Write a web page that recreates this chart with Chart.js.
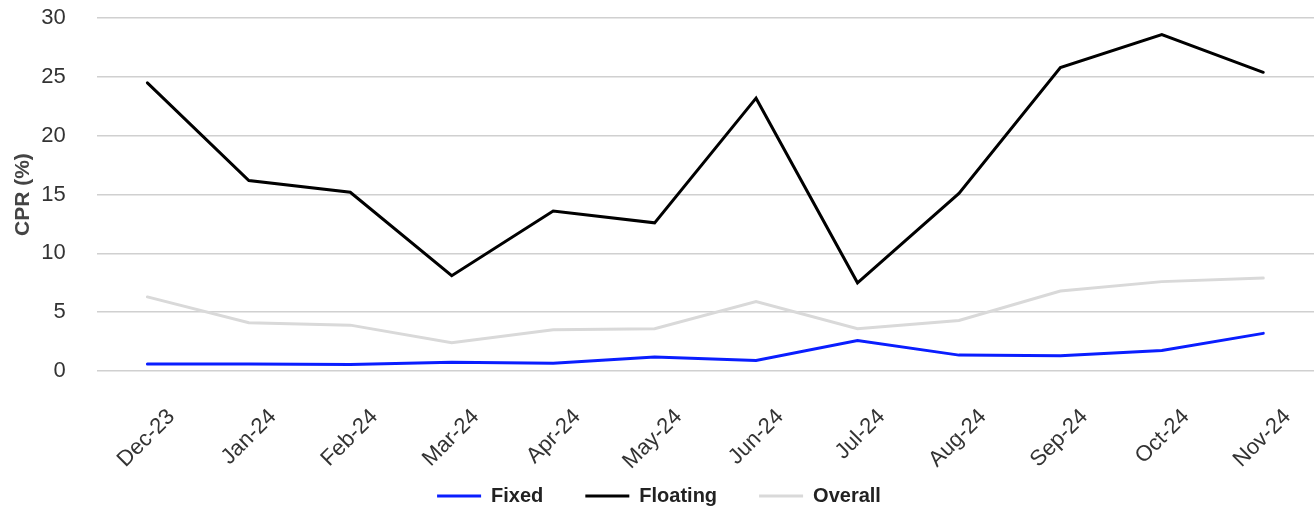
<!DOCTYPE html>
<html>
<head>
<meta charset="utf-8">
<script src="https://cdn.jsdelivr.net/npm/chart.js@4"></script>
<style>
  body { margin: 0; background: #fff; }
  #wrap { width: 1314px; height: 518px; position: relative; }
</style>
</head>
<body>
<div id="wrap"><canvas id="cpr"></canvas></div>
<script>
var months = ["Dec-23", "Jan-24", "Feb-24", "Mar-24", "Apr-24", "May-24",
              "Jun-24", "Jul-24", "Aug-24", "Sep-24", "Oct-24", "Nov-24"];
var fixed = [0.6, 0.6, 0.55, 0.75, 0.65, 1.2, 0.9, 2.6, 1.35, 1.3, 1.75, 3.2];
var floating = [24.5, 16.2, 15.2, 8.1, 13.6, 12.6, 23.2, 7.5, 15.1, 25.8, 28.6, 25.4];
var overall = [6.3, 4.1, 3.9, 2.4, 3.5, 3.6, 5.9, 3.6, 4.3, 6.8, 7.6, 7.9];

Chart.defaults.font.family = "'Liberation Sans', Arial, sans-serif";
Chart.defaults.color = "#333";

const data_cpr = {
  labels: months,
  datasets: [
    { label: "Fixed", data: fixed, borderColor: "#0a1eff", backgroundColor: "#0a1eff" },
    { label: "Floating", data: floating, borderColor: "#000000", backgroundColor: "#000000" },
    { label: "Overall", data: overall, borderColor: "#d9d9d9", backgroundColor: "#d9d9d9" },
  ],
};
data_cpr.datasets.forEach((ds) => {
  ds.borderWidth = 3;
  ds.pointRadius = 0;
  ds.tension = 0;
  ds.borderCapStyle = "round";
  ds.pointStyle = "line";
});

// x labels hang below their (shortened) axis box into the legend's empty top padding,
// so switch off the label clipping of that axis
const noLabelClip = {
  id: "noLabelClip",
  afterUpdate(chart) {
    chart.scales.x._computeLabelArea = () => undefined;
  },
};

const config_cpr = {
  type: "line",
  data: data_cpr,
  options: {
    responsive: true,
    maintainAspectRatio: false,
    animation: false,
    layout: { padding: { top: 0, right: 0, left: 4, bottom: 2 } },
    scales: {
      x: {
        offset: true,
        grid: { display: false },
        border: { display: false },
        ticks: {
          font: { size: 22 },
          color: "#333",
          maxRotation: 45,
          minRotation: 45,
          labelOffset: 24,
          padding: 25,
        },
        afterFit: (scale) => { scale.height = 73; },
      },
      y: {
        min: 0,
        max: 30,
        grid: { color: "#d0d0d0", lineWidth: 1.5, drawTicks: true, tickLength: 26, tickColor: "rgba(0,0,0,0)" },
        border: { display: false },
        ticks: { stepSize: 5, font: { size: 22 }, color: "#333", padding: 5 },
        title: {
          display: true,
          text: "CPR (%)",
          font: { size: 21, weight: "bold" },
          color: "#444",
          padding: { top: 7, bottom: 0 },
        },
      },
    },
    plugins: {
      legend: {
        position: "bottom",
        labels: {
          usePointStyle: true,
          pointStyleWidth: 44,
          boxHeight: 3,
          padding: 42,
          font: { size: 20, weight: "bold" },
          color: "#222",
        },
      },
      tooltip: { enabled: false },
    },
  },
  plugins: [noLabelClip],
};

const cpr = new Chart(document.getElementById("cpr"), config_cpr);
</script>
</body>
</html>
